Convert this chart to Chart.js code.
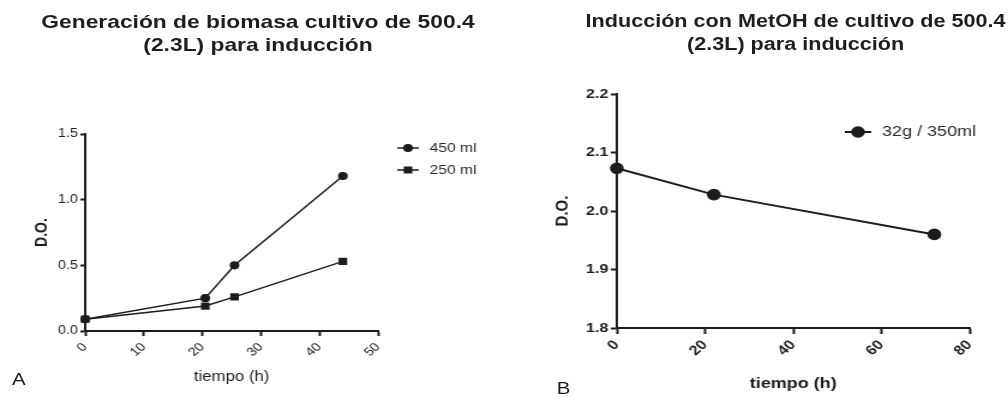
<!DOCTYPE html>
<html>
<head>
<meta charset="utf-8">
<script src="https://cdn.jsdelivr.net/npm/chart.js@4/dist/chart.umd.min.js"></script>
<style>
body { margin: 0; background: #fff; width: 1008px; height: 400px; overflow: hidden; font-family: "Liberation Sans", Arial, sans-serif; }
/* the original figure is stretched sideways, so the whole stage is too */
#stage { position: absolute; left: 0; top: 0; width: 840px; height: 400px; transform: scaleX(1.2); transform-origin: 0 0; }
.box { position: absolute; top: 0; width: 420px; height: 400px; }
.title { position: absolute; top: 10px; font-weight: bold; line-height: 23px; color: #1e1e1e; text-align: center; white-space: nowrap; }
.tag { position: absolute; font-size: 17px; line-height: 17px; color: #1a1a1a; }
</style>
</head>
<body>
<div id="stage">
  <div class="box" style="left:0"><canvas id="chartA" width="420" height="400"></canvas></div>
  <div class="box" style="left:420px"><canvas id="chartB" width="420" height="400"></canvas></div>
  <div class="title" style="left:15px;width:400px;font-size:19px">Generación de biomasa cultivo de 500.4<br>(2.3L) para inducción</div>
  <div class="title" style="left:463px;width:400px;font-size:18px">Inducción con MetOH de cultivo de 500.4<br>(2.3L) para inducción</div>
  <div class="tag" style="left:10px;top:371px">A</div>
  <div class="tag" style="left:464px;top:380px">B</div>
</div>
<script>
// Panel A - biomasa
const timeA = [0, 20.5, 25.5, 44];
const od450 = [0.09, 0.25, 0.50, 1.18];
const od250 = [0.09, 0.19, 0.26, 0.53];
const labelsA = ['450 ml', '250 ml'];

// Panel B - induccion MetOH
const timeB = [0, 22, 72];
const odB = [2.073, 2.028, 1.960];
const labelsB = ['32g / 350ml'];

const ink = '#1c1c1c';

function pts(xs, ys) {
    return xs.map((x, i) => ({ x: x, y: ys[i] }));
}

// legend drawn as line + marker like the original software
const lineLegend = {
    id: 'lineLegend',
    afterDraw(chart, args, opts) {
        const ctx = chart.ctx;
        chart.data.datasets.forEach((ds, i) => {
            const y = opts.y + i * opts.gap;
            ctx.save();
            ctx.strokeStyle = ds.borderColor;
            ctx.lineWidth = ds.borderWidth;
            ctx.beginPath();
            ctx.moveTo(opts.x - opts.half, y);
            ctx.lineTo(opts.x + opts.half, y);
            ctx.stroke();
            ctx.fillStyle = ds.pointBackgroundColor;
            Chart.helpers.drawPoint(ctx, { pointStyle: ds.pointStyle, radius: ds.pointRadius, borderWidth: 1 }, opts.x, y);
            ctx.fillStyle = '#2a2a2a';
            ctx.font = opts.font;
            ctx.textBaseline = 'middle';
            ctx.fillText(ds.label, opts.x + opts.half + opts.space, y);
            ctx.restore();
        });
    }
};

function axis(o) {
    return {
        type: 'linear',
        min: o.min, max: o.max,
        afterFit: o.fit,
        border: { display: true, color: ink, width: 2 },
        grid: { display: true, drawOnChartArea: false, drawTicks: true, tickLength: o.tick, tickWidth: 2, tickColor: ink },
        ticks: {
            stepSize: o.step, color: '#222', font: o.font, padding: o.pad,
            maxRotation: o.rot, minRotation: o.rot,
            callback: o.fmt
        },
        title: { display: true, text: o.title, color: ink, font: o.tfont, padding: o.tpad }
    };
}

new Chart(document.getElementById('chartA'), {
    type: 'line',
    data: {
        datasets: [
            { label: labelsA[0], data: pts(timeA, od450), borderColor: ink, borderWidth: 1.5, pointStyle: 'circle', pointRadius: 3.3, pointBackgroundColor: ink, pointBorderColor: ink, clip: false },
            { label: labelsA[1], data: pts(timeA, od250), borderColor: ink, borderWidth: 1.5, pointStyle: 'rect', pointRadius: 4, pointBackgroundColor: ink, pointBorderColor: ink, clip: false }
        ]
    },
    options: {
        responsive: false, animation: false,
        layout: { padding: { top: 134, right: 105, left: 0, bottom: 0 } },
        plugins: {
            legend: { display: false }, tooltip: { enabled: false },
            lineLegend: { x: 340, y: 148, gap: 22, half: 9, space: 9, font: '13px "Liberation Sans", Arial, sans-serif' }
        },
        scales: {
            x: axis({ min: 0, max: 50, step: 10, rot: 45, tick: 5, pad: 4, fit: s => { s.height = 69; },
                font: { size: 12 }, title: 'tiempo (h)', tfont: { size: 14 }, tpad: { bottom: 14 },
                fmt: v => v }),
            y: axis({ min: 0, max: 1.5, step: 0.5, rot: 0, tick: 4, pad: 2, fit: s => { s.width = 71; },
                font: { size: 12 }, title: 'D.O.', tfont: { size: 14, weight: 'bold' }, tpad: { top: 27 },
                fmt: v => v.toFixed(1) })
        }
    },
    plugins: [lineLegend]
});

new Chart(document.getElementById('chartB'), {
    type: 'line',
    data: {
        datasets: [
            { label: labelsB[0], data: pts(timeB, odB), borderColor: ink, borderWidth: 2, pointStyle: 'circle', pointRadius: 4.8, pointBackgroundColor: ink, pointBorderColor: ink, clip: false }
        ]
    },
    options: {
        responsive: false, animation: false,
        layout: { padding: { top: 94, right: 32, left: 0, bottom: 0 } },
        plugins: {
            legend: { display: false }, tooltip: { enabled: false },
            lineLegend: { x: 295, y: 132, gap: 24, half: 11, space: 9, font: '15px "Liberation Sans", Arial, sans-serif' }
        },
        scales: {
            x: axis({ min: 0, max: 80, step: 20, rot: 45, tick: 6, pad: 3, fit: s => { s.height = 72; },
                font: { size: 13.5, weight: 'bold' }, title: 'tiempo (h)', tfont: { size: 15, weight: 'bold' }, tpad: { bottom: 7 },
                fmt: v => v }),
            y: axis({ min: 1.8, max: 2.2, step: 0.1, rot: 0, tick: 5, pad: 2, fit: s => { s.width = 94; },
                font: { size: 13.5, weight: 'bold' }, title: 'D.O.', tfont: { size: 15, weight: 'bold' }, tpad: { top: 40 },
                fmt: v => v.toFixed(1) })
        }
    },
    plugins: [lineLegend]
});
</script>
</body>
</html>
